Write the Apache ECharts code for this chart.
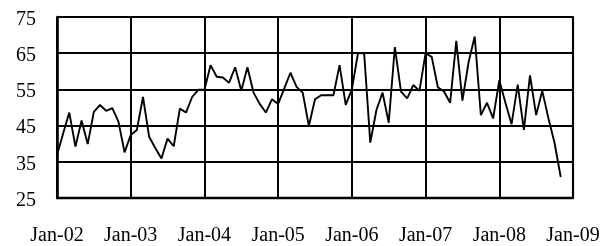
<!DOCTYPE html>
<html>
<head>
<meta charset="utf-8">
<script src="https://cdn.jsdelivr.net/npm/echarts@6/dist/echarts.min.js"></script>
<style>
html,body{margin:0;padding:0;background:#fff;}
#c{width:613px;height:246px;}
</style>
</head>
<body>
<div id="c"></div>
<script>
var monthNames = ['Jan','Feb','Mar','Apr','May','Jun','Jul','Aug','Sep','Oct','Nov','Dec'];
var years = ['02','03','04','05','06','07','08','09'];
var tickLabels = ['Jan-02','Jan-03','Jan-04','Jan-05','Jan-06','Jan-07','Jan-08','Jan-09'];
var yTicks = [25, 35, 45, 55, 65, 75];

var v2002 = [36.9, 42.8, 48.6, 39.2, 46.4, 39.9, 48.8, 50.7, 49.1, 49.8, 46.1, 37.6];
var v2003 = [42.4, 43.8, 52.9, 41.9, 38.8, 35.9, 41.4, 39.3, 49.7, 48.6, 52.9, 54.9];
var v2004 = [54.9, 61.7, 58.5, 58.3, 56.8, 61.1, 54.6, 61.1, 54.1, 51.0, 48.6, 52.3];
var v2005 = [51.0, 55.3, 59.6, 55.7, 54.1, 44.9, 52.3, 53.4, 53.4, 53.4, 61.7, 50.7];
var v2006 = [55.0, 65.0, 65.0, 40.3, 49.3, 54.1, 45.8, 66.7, 54.4, 52.5, 56.2, 54.6];
var v2007 = [65.0, 64.0, 55.6, 54.4, 51.3, 68.4, 51.9, 62.5, 69.6, 47.9, 51.3, 47.0];
var v2008 = [57.5, 51.3, 45.4, 56.3, 43.8, 58.9, 47.9, 54.6, 47.0, 40.2, 30.8];

var categories = [];
for (var y = 0; y < years.length; y++) {
  for (var m = 0; m < 12; m++) {
    if (y === years.length - 1 && m > 0) break;
    categories.push(monthNames[m] + '-' + years[y]);
  }
}
var values = [].concat(v2002, v2003, v2004, v2005, v2006, v2007, v2008);

var chart = echarts.init(document.getElementById('c'), null, {renderer: 'canvas'});
var font = 'Liberation Serif, Times New Roman, serif';
var isTick = function (i, v) { return tickLabels.indexOf(v) >= 0; };
chart.setOption({
  animation: false,
  backgroundColor: '#fff',
  grid: {left: 57, right: 40, top: 17, bottom: 48},
  xAxis: {
    type: 'category',
    data: categories,
    boundaryGap: false,
    axisLine: {show: true, lineStyle: {color: '#000', width: 2.4}},
    axisTick: {show: false},
    axisLabel: {interval: isTick, color: '#000', fontFamily: font, fontSize: 20, margin: 28},
    splitLine: {show: true, interval: isTick, lineStyle: {color: '#000', width: 2}}
  },
  yAxis: [{
    type: 'value',
    min: yTicks[0], max: yTicks[yTicks.length - 1], interval: 10,
    axisLine: {show: true, lineStyle: {color: '#000', width: 2.6}},
    axisTick: {show: false},
    axisLabel: {
      color: '#000', fontFamily: font, fontSize: 20, margin: 21,
      formatter: '{a|{value}}',
      rich: {a: {color: '#000', fontFamily: font, fontSize: 20, padding: [5, 0, 0, 0]}}
    },
    splitLine: {show: true, lineStyle: {color: '#000', width: 2}}
  }, {
    type: 'value',
    position: 'right',
    min: yTicks[0], max: yTicks[yTicks.length - 1], interval: 10,
    axisLine: {show: true, lineStyle: {color: '#000', width: 2.2}},
    axisTick: {show: false},
    axisLabel: {show: false},
    splitLine: {show: false}
  }],
  series: [{
    type: 'line',
    data: values,
    symbol: 'none',
    lineStyle: {color: '#000', width: 1.9},
    clip: true
  }]
});
</script>
</body>
</html>
